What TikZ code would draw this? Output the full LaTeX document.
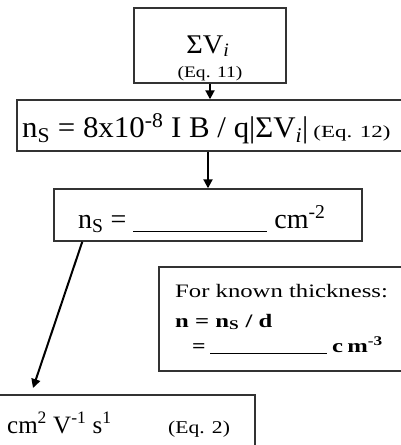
\documentclass[tikz,border=0pt]{standalone}
\usepackage{fontspec}
\usepackage{graphicx}
\setmainfont{Liberation Serif}
\usetikzlibrary{arrows.meta}
\newcommand{\fsz}[1]{\fontsize{#1}{#1}\selectfont}
\newcommand{\wide}[2]{\scalebox{#1}[1]{#2}}
\begin{document}
\begin{tikzpicture}[x=1pt,y=-1pt,
  box/.style={draw=black!80, line width=1.4pt, inner sep=0pt},
  txt/.style={inner sep=0pt, anchor=base west},
  arr/.style={-{Triangle[length=9pt,width=9pt]}, line width=2pt}]
\useasboundingbox (0,0) rectangle (401,445);
\clip (0,0) rectangle (401,445);
% boxes
\node[box, minimum width=152pt, minimum height=75pt] (b1) at (210,45.5) {};
\node[box, minimum width=386pt, minimum height=51pt] (b2) at (210,125.5) {};
\node[box, minimum width=308pt, minimum height=52pt] (b3) at (208,215) {};
\node[box, minimum width=244pt, minimum height=104pt] (b4) at (281,319) {};
\node[box, minimum width=258pt, minimum height=60pt] (b5) at (126,425) {};
% texts
\node[txt, anchor=base] (t1) at (208,53) {\fsz{27}\wide{1.05}{ΣV\textsubscript{\textit{i}}}};
\node[txt, anchor=base] (t1b) at (210,77) {\fsz{16}\wide{1.22}{(Eq. 11)}};
\node[txt] (t2) at (22,137) {\fsz{30}\wide{1.03}{n\textsubscript{S} = 8x10\textsuperscript{-8} I B / q|ΣV\textsubscript{\textit{i}}|}\,\fsz{17}\wide{1.35}{(Eq. 12)}};
\node[txt] (t3) at (78,228) {\fsz{28}n\textsubscript{S} = \rule[-4pt]{134pt}{1.2pt} cm\textsuperscript{-2}};
\node[txt] (t4a) at (175,297) {\fsz{19}\wide{1.3}{For known thickness:}};
\node[txt] (t4b) at (175,327) {\fsz{19}\bfseries\wide{1.3}{n = n\textsubscript{S} / d}};
\node[txt] (t4c) at (192,352) {\fsz{19}\bfseries\wide{1.25}{=} \rule[-2pt]{117pt}{1pt} \wide{1.3}{c\,m\textsuperscript{-3}}};
\node[txt] (t5a) at (7,433) {\fsz{25}cm\textsuperscript{2} V\textsuperscript{-1} s\textsuperscript{1}};
\node[txt] (t5b) at (168,433) {\fsz{18}\wide{1.2}{(Eq. 2)}};
% connectors
\coordinate (s3) at ([xshift=29pt]b3.south west);
\coordinate (e3) at (33,388);
\draw[arr] (b1.south) -- (b2.north);
\draw[arr] (b2.south -| b3.north) -- (b3.north);
\draw[arr] (s3) -- (e3);
\end{tikzpicture}
\end{document}
